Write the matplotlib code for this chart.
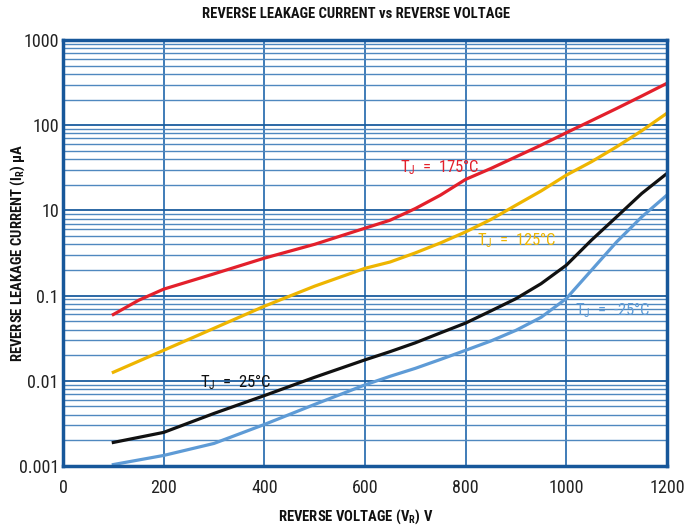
import matplotlib
matplotlib.use('Agg')
import matplotlib.pyplot as plt
from matplotlib.ticker import LogLocator, NullFormatter, FixedLocator

# reverse voltage (V)
volts_175 = [100, 150, 200, 300, 400, 500, 600, 650, 700, 750, 800, 850,
             900, 950, 1000, 1050, 1100, 1150, 1200]
volts = [100, 200, 300, 400, 500, 600, 650, 700, 750, 800, 850,
         900, 950, 1000, 1050, 1100, 1150, 1200]

# leakage current per junction temperature, as plotted
t175 = [0.060, 0.088, 0.119, 0.18, 0.275, 0.40, 0.618, 0.767, 1.05, 1.51, 2.31,
        3.1, 4.25, 5.83, 8.15, 11.3, 15.7, 22.0, 31.0]
t125 = [0.0126, 0.0228, 0.0413, 0.075, 0.129, 0.209, 0.248, 0.317, 0.415, 0.559,
        0.78, 1.15, 1.69, 2.59, 3.72, 5.57, 8.6, 13.8]
t25 = [0.00189, 0.00248, 0.00414, 0.0067, 0.011, 0.0176, 0.022, 0.0279, 0.0365,
       0.0476, 0.066, 0.092, 0.138, 0.227, 0.447, 0.839, 1.58, 2.71]
tm25 = [0.00104, 0.00133, 0.00184, 0.00307, 0.00528, 0.00895, 0.0113, 0.0140,
        0.0178, 0.0228, 0.0293, 0.0391, 0.0556, 0.0922, 0.198, 0.426, 0.839, 1.51]

# tick labels as printed on the chart (the "1" decade is missing there)
ytick_vals = [1e-3, 1e-2, 1e-1, 1e0, 1e1, 1e2]
ytick_labels = ['0.001', '0.01', '0.1', '10', '100', '1000']
xtick_vals = [0, 200, 400, 600, 800, 1000, 1200]

plt.rcParams['font.family'] = ['Roboto Condensed', 'Liberation Sans Narrow',
                               'Liberation Sans', 'DejaVu Sans']
plt.rcParams['mathtext.default'] = 'regular'

fig = plt.figure(figsize=(6.84, 5.31), dpi=100)
ax = fig.add_axes([0.0921, 0.1224, 0.8829, 0.8023])

ax.set_yscale('log')
ax.set_xlim(0, 1200)
ax.set_ylim(1e-3, 1e2)

ax.yaxis.set_major_locator(FixedLocator(ytick_vals))
ax.set_yticklabels(ytick_labels)
ax.yaxis.set_minor_locator(LogLocator(base=10, subs=range(2, 10)))
ax.yaxis.set_minor_formatter(NullFormatter())
ax.set_xticks(xtick_vals)

ax.grid(True, which='major', axis='y', color='#1b5d9e', lw=1.3)
ax.grid(True, which='minor', axis='y', color='#4f88bf', lw=1.0)
ax.grid(True, which='major', axis='x', color='#3f7cb8', lw=1.4)
ax.set_axisbelow(True)

for sp in ax.spines.values():
    sp.set_color('#17579a')
    sp.set_linewidth(2.5)

ax.tick_params(which='both', length=0, labelsize=13, colors='#222222')
ax.tick_params(axis='x', pad=9)
ax.tick_params(axis='y', pad=3)

ax.plot(volts_175, t175, color='#e3202b', lw=2.3)
ax.plot(volts, t125, color='#eeb500', lw=2.3)
ax.plot(volts, t25, color='#111111', lw=2.3)
ax.plot(volts, tm25, color='#5e9bd6', lw=2.3)

ax.text(670, 3.2, 'T$_J$  =  175°C', color='#e3202b', fontsize=12, va='center')
ax.text(823, 0.447, 'T$_J$  =  125°C', color='#eeb500', fontsize=12, va='center')
ax.text(272, 0.0096, 'T$_J$  =  25°C', color='#111111', fontsize=12, va='center')
ax.text(1017, 0.067, 'T$_J$  =  -25°C', color='#5e9bd6', fontsize=12, va='center')

fig.text(0.52, 0.974, 'REVERSE LEAKAGE CURRENT vs REVERSE VOLTAGE',
         ha='center', va='center', fontsize=10.5, fontweight='bold', color='#111111')
fig.text(0.52, 0.026, 'REVERSE VOLTAGE (V$_R$) V', ha='center', va='center',
         fontsize=10.5, fontweight='bold', color='#111111')
fig.text(0.026, 0.5235, 'REVERSE LEAKAGE CURRENT (I$_R$) µA', ha='center', va='center',
         rotation=90, fontsize=10.5, fontweight='bold', color='#111111')

fig.savefig('out.png', dpi=100)
